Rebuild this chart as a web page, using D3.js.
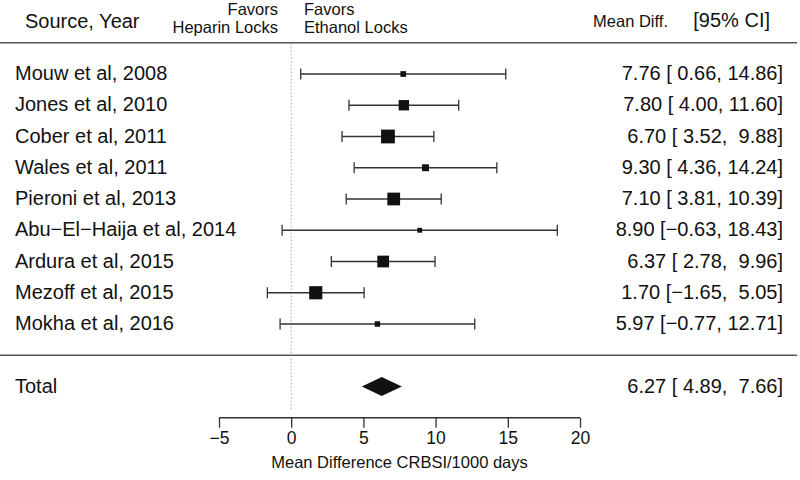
<!DOCTYPE html>
<html>
<head>
<meta charset="utf-8">
<script src="https://cdn.jsdelivr.net/npm/d3@7"></script>
<style>
  html, body { margin: 0; padding: 0; background: #fff; }
  svg text { font-family: "Liberation Sans", Arial, Helvetica, sans-serif; fill: #111; white-space: pre; }
</style>
</head>
<body>
<svg id="chart" width="800" height="480"></svg>
<script>
// ---- data ----
const studies = ["Mouw et al, 2008", "Jones et al, 2010", "Cober et al, 2011", "Wales et al, 2011",
  "Pieroni et al, 2013", "Abu\u2212El\u2212Haija et al, 2014", "Ardura et al, 2015", "Mezoff et al, 2015", "Mokha et al, 2016"];
const means  = [7.76, 7.80, 6.70, 9.30, 7.10, 8.90, 6.37, 1.70, 5.97];
const lowers = [0.66, 4.00, 3.52, 4.36, 3.81, -0.63, 2.78, -1.65, -0.77];
const uppers = [14.86, 11.60, 9.88, 14.24, 10.39, 18.43, 9.96, 5.05, 12.71];
const weights = [3.6, 11.9, 21.0, 5.3, 17.9, 2.6, 15.2, 19.1, 3.3];
const totalLabel = "Total";
const totalMean = 6.27, totalLower = 4.89, totalUpper = 7.66;
const tickValues = [-5, 0, 5, 10, 15, 20];
const axisTitle = "Mean Difference CRBSI/1000 days";

// ---- layout ----
const svg = d3.select("#chart");
const x = d3.scaleLinear().domain([-5, 20]).range([219, 580]);
const y = d3.scaleLinear().domain([0, 1]).range([74, 105.25]); // row index -> y
const size = d3.scaleSqrt().domain([0, d3.max(weights)]).range([0, 13.8]);
const FS = 20;

const fmt = v => d3.format(".2f")(v).replace("-", "\u2212");
const pad = (s, n) => s.padStart(n, " ");
const ciText = (m, l, u) => `${fmt(m)} [${pad(fmt(l), 5)}, ${pad(fmt(u), 5)}]`;

// header
svg.append("text").attr("x", 25).attr("y", 28).attr("font-size", FS).text("Source, Year");
svg.append("text").attr("x", 278).attr("y", 15).attr("font-size", 16.5).attr("text-anchor", "end").text("Favors");
svg.append("text").attr("x", 278).attr("y", 33).attr("font-size", 16.5).attr("text-anchor", "end").text("Heparin Locks");
svg.append("text").attr("x", 304).attr("y", 15).attr("font-size", 16.5).text("Favors");
svg.append("text").attr("x", 304).attr("y", 33).attr("font-size", 16.5).text("Ethanol Locks");
svg.append("text").attr("x", 668).attr("y", 27).attr("font-size", 16.5).attr("text-anchor", "end").text("Mean Diff.");
svg.append("text").attr("x", 770).attr("y", 27).attr("font-size", FS).attr("text-anchor", "end").text("[95% CI]");

// horizontal rules
[-1, 9].forEach(i => {
  svg.append("line").attr("x1", 0).attr("x2", 797).attr("y1", y(i)).attr("y2", y(i))
    .attr("stroke", "#555").attr("stroke-width", 1.6);
});

// reference line at 0
svg.append("line").attr("x1", x(0)).attr("x2", x(0)).attr("y1", y(-1) + 1).attr("y2", 409)
  .attr("stroke", "#888").attr("stroke-width", 1).attr("stroke-dasharray", "1,2.5");

// studies
const rows = svg.append("g").selectAll("g").data(studies).join("g")
  .attr("transform", (d, i) => `translate(0,${y(i)})`);

rows.append("text").attr("x", 15).attr("y", 6).attr("font-size", FS).text(d => d);
rows.append("text").attr("x", 783).attr("y", 6).attr("font-size", FS).attr("text-anchor", "end")
  .text((d, i) => ciText(means[i], lowers[i], uppers[i]));

rows.append("line").attr("x1", (d, i) => x(lowers[i])).attr("x2", (d, i) => x(uppers[i]))
  .attr("y1", 0).attr("y2", 0).attr("stroke", "#333").attr("stroke-width", 1.3);
rows.append("line").attr("x1", (d, i) => x(lowers[i])).attr("x2", (d, i) => x(lowers[i]))
  .attr("y1", -5.5).attr("y2", 5.5).attr("stroke", "#333").attr("stroke-width", 1.3);
rows.append("line").attr("x1", (d, i) => x(uppers[i])).attr("x2", (d, i) => x(uppers[i]))
  .attr("y1", -5.5).attr("y2", 5.5).attr("stroke", "#333").attr("stroke-width", 1.3);
rows.append("rect")
  .attr("x", (d, i) => x(means[i]) - size(weights[i]) / 2)
  .attr("y", (d, i) => -size(weights[i]) / 2)
  .attr("width", (d, i) => size(weights[i]))
  .attr("height", (d, i) => size(weights[i]))
  .attr("fill", "#111");

// total
const ty = y(10);
svg.append("text").attr("x", 15).attr("y", ty + 6).attr("font-size", FS).text(totalLabel);
svg.append("text").attr("x", 783).attr("y", ty + 6).attr("font-size", FS).attr("text-anchor", "end")
  .text(ciText(totalMean, totalLower, totalUpper));
svg.append("path")
  .attr("d", d3.line()([[x(totalLower), ty], [x(totalMean), ty - 9.5], [x(totalUpper), ty], [x(totalMean), ty + 9.5]]) + "Z")
  .attr("fill", "#111");

// axis
const axis = d3.axisBottom(x).tickValues(tickValues).tickSize(10).tickPadding(4).tickFormat(d3.format("d"));
const ag = svg.append("g").attr("transform", `translate(0,${y(11)})`).call(axis);
ag.select(".domain").attr("stroke", "#333").attr("stroke-width", 1.3).attr("d", `M${x(-5)},0H${x(20)}`);
ag.selectAll(".tick line").attr("stroke", "#333").attr("stroke-width", 1.3);
ag.selectAll(".tick text").attr("font-size", 17.5).attr("fill", "#111")
  .attr("font-family", "Liberation Sans, Arial, sans-serif");
svg.append("text").attr("x", (x(-5) + x(20)) / 2).attr("y", 468).attr("font-size", 16.5)
  .attr("text-anchor", "middle").text(axisTitle);
</script>
</body>
</html>
